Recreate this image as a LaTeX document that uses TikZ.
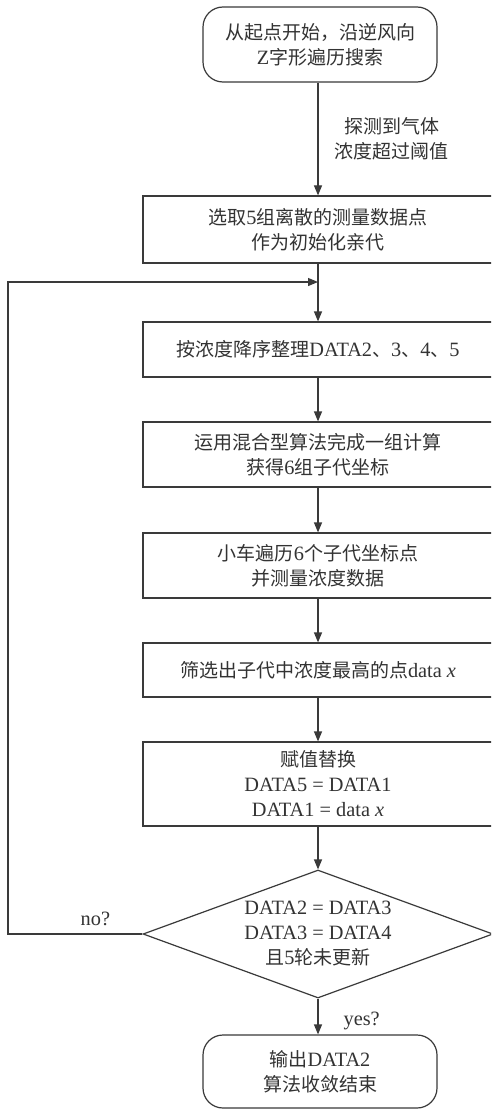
\documentclass[tikz,border=0pt]{standalone}
\usepackage{fontspec}
\setmainfont{Liberation Serif}[Scale=1.07]
\newfontfamily\cjk{Noto Sans CJK SC}
\newcommand\zh[1]{{\cjk #1}}
\usetikzlibrary{arrows.meta,shapes.geometric}
\definecolor{ln}{HTML}{3A3A3A}
\definecolor{txt}{HTML}{333333}
\begin{document}
\begin{tikzpicture}[x=1pt,y=-1pt,
  every node/.style={font=\fontsize{19}{25}\selectfont, text=txt},
  proc/.style={draw=ln, line width=1.2pt, rectangle, minimum width=350pt, inner sep=0pt, align=center},
  term/.style={draw=ln, line width=1.2pt, rectangle, rounded corners=20pt, minimum width=234pt, inner sep=0pt, align=center},
  dec/.style={draw=ln, line width=1.2pt, diamond, aspect=2.73, minimum width=350pt, minimum height=128pt, inner sep=0pt, align=center},
  arr/.style={draw=ln, line width=1.2pt, -{Triangle[length=10pt,width=8pt]}},
  lbl/.style={inner sep=0pt, align=center}]
\clip (0,0) rectangle (491,1110);
\fill[white] (0,0) rectangle (491,1110);

\node[term, minimum height=75pt] (start) at (320,44.5) {\zh{从起点开始，沿逆风向}\\Z\zh{字形遍历搜索}};
\node[proc, minimum height=67pt] (b1) at (318,229.5) {\zh{选取}5\zh{组离散的测量数据点}\\\zh{作为初始化亲代}};
\node[proc, minimum height=55pt] (b2) at (318,349.5) {\zh{按浓度降序整理}DATA2\zh{、}3\zh{、}4\zh{、}5};
\node[proc, minimum height=65pt] (b3) at (318,454.5) {\zh{运用混合型算法完成一组计算}\\\zh{获得}6\zh{组子代坐标}};
\node[proc, minimum height=65pt] (b4) at (318,565.5) {\zh{小车遍历}6\zh{个子代坐标点}\\\zh{并测量浓度数据}};
\node[proc, minimum height=54pt] (b5) at (318,670) {\zh{筛选出子代中浓度最高的点}data \textit{x}};
\node[proc, minimum height=84pt] (b6) at (318,784) {\zh{赋值替换}\\DATA5 = DATA1\\DATA1 = data \textit{x}};
\node[dec] (dia) at (318,934) {DATA2 = DATA3\\DATA3 = DATA4\\\zh{且}5\zh{轮未更新}};
\node[term, minimum height=73pt] (end) at (320,1071.5) {\zh{输出}DATA2\\\zh{算法收敛结束}};

\coordinate (j) at (318,282);
\coordinate (lb) at (8,934);
\coordinate (lt) at (8,282);

\draw[arr] (start.south -| b1.north) -- node[lbl, anchor=west, xshift=16pt] {\zh{探测到气体}\\\zh{浓度超过阈值}} (b1.north);
\draw[arr] (b1.south) -- (b2.north);
\draw[arr] (dia.west) -- node[lbl, above=8pt, pos=0.35] {no?} (lb) -- (lt) -- (j);
\draw[arr] (b2.south) -- (b3.north);
\draw[arr] (b3.south) -- (b4.north);
\draw[arr] (b4.south) -- (b5.north);
\draw[arr] (b5.south) -- (b6.north);
\draw[arr] (b6.south) -- (dia.north);
\draw[arr] (dia.south) -- node[lbl, anchor=west, xshift=25pt, yshift=-4pt] {yes?} (dia.south |- end.north);
\end{tikzpicture}
\end{document}
